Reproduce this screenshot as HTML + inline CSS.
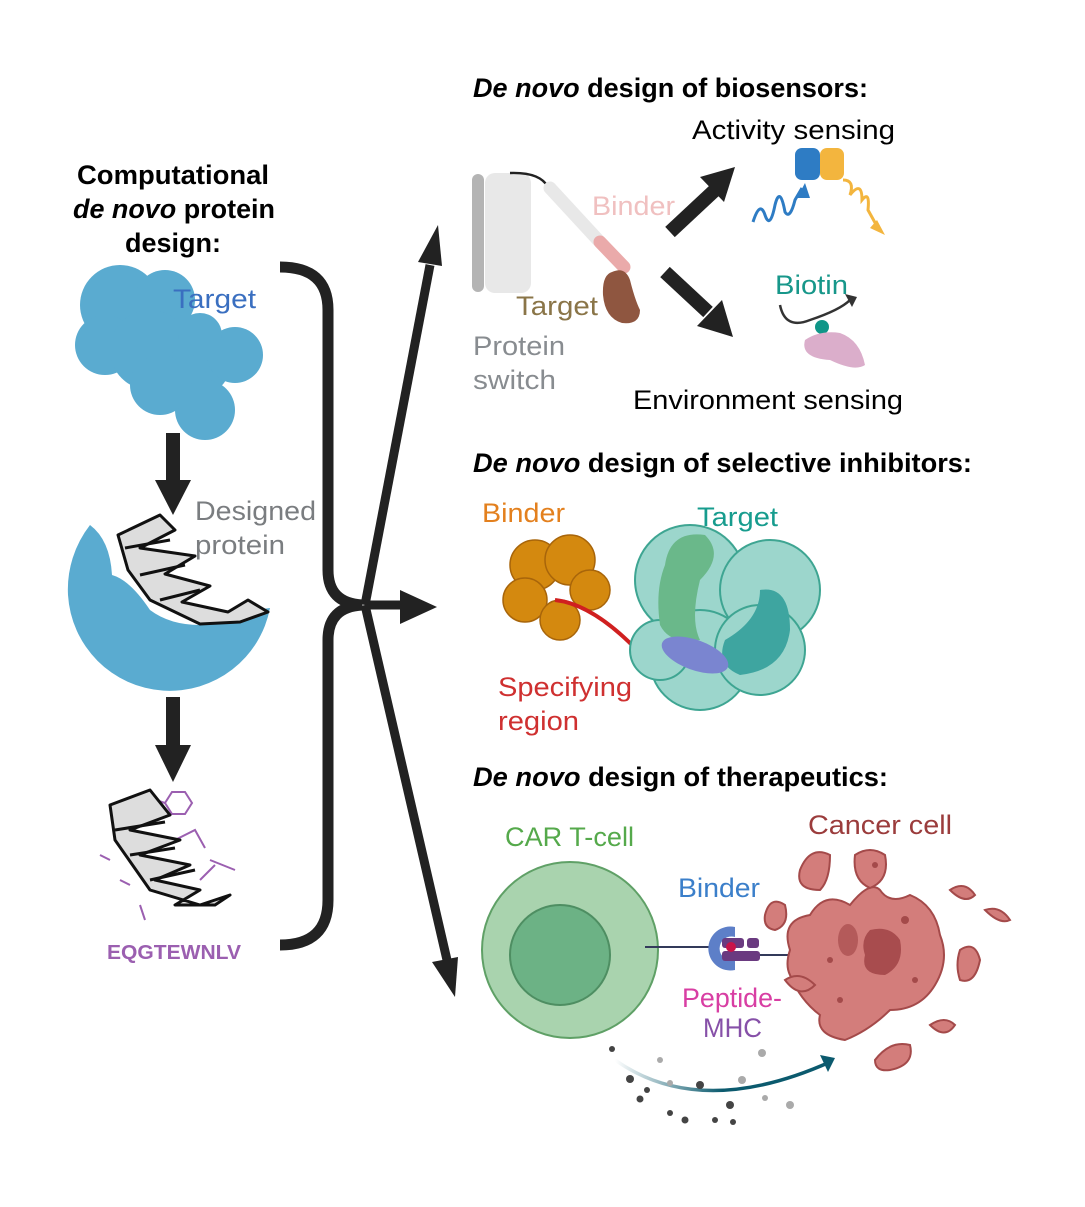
<!DOCTYPE html>
<html><head><meta charset="utf-8"><style>
html,body{margin:0;padding:0;background:#fff;}
svg{display:block;font-family:"Liberation Sans",sans-serif;}
</style></head><body>
<svg width="1085" height="1207" viewBox="0 0 1085 1207" xmlns="http://www.w3.org/2000/svg">
<defs>
<linearGradient id="ga" x1="0" x2="1"><stop offset="0" stop-color="#0b5a6e" stop-opacity="0"/><stop offset="0.5" stop-color="#0b5a6e"/><stop offset="1" stop-color="#0b5a6e"/></linearGradient>
</defs>
<!-- Left title -->
<g font-weight="bold" font-size="27" fill="#000" lengthAdjust="spacingAndGlyphs">
<text x="77" y="184" textLength="192" lengthAdjust="spacingAndGlyphs">Computational</text>
<text x="73" y="218" textLength="202" lengthAdjust="spacingAndGlyphs"><tspan font-style="italic">de novo</tspan> protein</text>
<text x="125" y="252" textLength="96" lengthAdjust="spacingAndGlyphs">design:</text>
</g>
<!-- Target blob -->
<g fill="#5aabd0">
<circle cx="120" cy="305" r="40"/><circle cx="165" cy="300" r="30"/><circle cx="105" cy="345" r="30"/>
<circle cx="150" cy="350" r="40"/><circle cx="200" cy="365" r="30"/><circle cx="235" cy="355" r="28"/>
<circle cx="205" cy="410" r="30"/><circle cx="160" cy="385" r="30"/><circle cx="200" cy="335" r="22"/>
</g>
<text x="173" y="308" font-size="27" fill="#3a6fc0" textLength="83" lengthAdjust="spacingAndGlyphs">Target</text>
<!-- arrows -->
<rect x="166" y="433" width="14" height="50" fill="#222"/><path d="M155,480 L191,480 L173,515 z" fill="#222"/>
<rect x="166" y="697" width="14" height="50" fill="#222"/><path d="M155,745 L191,745 L173,782 z" fill="#222"/>
<!-- bowl -->
<path d="M90,525 Q110,540 112,575 Q130,580 150,610 Q170,625 200,625 L240,612 L270,608 A102,102 0 0 1 68,595 A105,105 0 0 1 90,525 z" fill="#5aabd0"/>
<g fill="#fff" stroke="#111" stroke-width="3" stroke-linejoin="round">
<path d="M118,535 L160,515 L175,530 L140,548 L195,556 L165,574 L210,586 L182,602 L228,612 L248,600 L268,612 L240,622 L200,624 L150,600 L128,570 z" fill="#ddd"/>
<path d="M125,548 L170,540 M140,575 L185,565 M160,600 L200,590" fill="none"/>
</g>
<text x="195" y="520" font-size="27" fill="#7a7d80" textLength="121" lengthAdjust="spacingAndGlyphs">Designed</text>
<text x="195" y="554" font-size="27" fill="#7a7d80" textLength="90" lengthAdjust="spacingAndGlyphs">protein</text>
<!-- helix 2 -->
<g fill="none" stroke="#9b5fb0" stroke-width="2">
<polygon points="172,792 185,792 192,803 185,814 172,814 165,803"/>
<path d="M140,795 L165,803 M175,840 L195,830 L205,848 M200,880 L215,865 M110,860 L100,855 M130,885 L120,880 M145,920 L140,905 M210,860 L235,870"/>
</g>
<g stroke="#111" stroke-width="3" stroke-linejoin="round">
<path d="M110,805 L150,790 L170,815 L130,830 L180,840 L140,855 L190,865 L155,880 L200,890 L175,905 L215,905 L230,895 L200,905 L150,890 L115,840 z" fill="#ddd"/>
<path d="M115,830 L165,822 M130,855 L175,848 M150,880 L195,870" fill="none"/>
</g>
<text x="107" y="959" font-size="20" font-weight="bold" fill="#9b5fb0" textLength="134" lengthAdjust="spacingAndGlyphs">EQGTEWNLV</text>
<!-- bracket -->
<path d="M280,267 Q328,267 328,310 L328,570 Q328,603 362,605 Q328,607 328,640 L328,900 Q328,945 280,945" fill="none" stroke="#222" stroke-width="11"/>
<!-- branching arrows -->
<path d="M365,605 L430,265" stroke="#222" stroke-width="9"/><path d="M418,262 L442,266 L438,225 z" fill="#222"/>
<path d="M365,605 L405,605" stroke="#222" stroke-width="9"/><path d="M400,590 L437,607 L400,624 z" fill="#222"/>
<path d="M365,605 L447,960" stroke="#222" stroke-width="9"/><path d="M432,962 L458,957 L455,997 z" fill="#222"/>
<!-- headings -->
<g font-size="27" font-weight="bold" fill="#000">
<text x="473" y="97" textLength="395" lengthAdjust="spacingAndGlyphs"><tspan font-style="italic">De novo</tspan> design of biosensors:</text>
<text x="473" y="472" textLength="499" lengthAdjust="spacingAndGlyphs"><tspan font-style="italic">De novo</tspan> design of selective inhibitors:</text>
<text x="473" y="786" textLength="415" lengthAdjust="spacingAndGlyphs"><tspan font-style="italic">De novo</tspan> design of therapeutics:</text>
</g>
<!-- biosensor -->
<rect x="472" y="174" width="12" height="118" rx="6" fill="#b4b4b4"/>
<rect x="485" y="173" width="46" height="120" rx="10" fill="#e8e8e8"/>
<path d="M510,173 Q540,172 548,187" fill="none" stroke="#222" stroke-width="2.5"/>
<path d="M550,188 L598,240" stroke="#e8e8e8" stroke-width="13" stroke-linecap="round"/>
<path d="M600,242 L624,267" stroke="#eaaaaa" stroke-width="13" stroke-linecap="round"/>
<path d="M612,272 Q625,266 630,280 Q635,300 640,310 Q640,325 622,323 Q605,318 603,295 Q602,275 612,272z" fill="#8f5640"/>
<text x="592" y="215" font-size="27" fill="#f0c0c0" textLength="83" lengthAdjust="spacingAndGlyphs">Binder</text>
<text x="516" y="315" font-size="27" fill="#8a7548" textLength="82" lengthAdjust="spacingAndGlyphs">Target</text>
<text x="473" y="355" font-size="27" fill="#888c90" textLength="92" lengthAdjust="spacingAndGlyphs">Protein</text>
<text x="473" y="389" font-size="27" fill="#888c90" textLength="83" lengthAdjust="spacingAndGlyphs">switch</text>
<path d="M670,232 L715,190" stroke="#222" stroke-width="14"/><path d="M700,177 L735,167 L724,202 z" fill="#222"/>
<path d="M665,272 L708,312" stroke="#222" stroke-width="14"/><path d="M722,300 L733,337 L697,326 z" fill="#222"/>
<text x="692" y="139" font-size="27" fill="#000" textLength="203" lengthAdjust="spacingAndGlyphs">Activity sensing</text>
<rect x="795" y="148" width="25" height="32" rx="7" fill="#2e7cc4"/>
<rect x="820" y="148" width="24" height="32" rx="7" fill="#f3b53e"/>
<path d="M753,222 Q760,200 765,215 Q770,230 775,205 Q780,185 785,212 Q790,220 795,200 L802,188" fill="none" stroke="#2e7cc4" stroke-width="3"/>
<path d="M797,198 L805,183 L810,198 z" fill="#2e7cc4"/>
<path d="M843,180 Q855,180 850,195 Q862,180 862,200 Q870,190 868,210 L878,228" fill="none" stroke="#f3b53e" stroke-width="3"/>
<path d="M870,228 L885,235 L877,220 z" fill="#f3b53e"/>
<text x="775" y="294" font-size="27" fill="#17978a" textLength="73" lengthAdjust="spacingAndGlyphs">Biotin</text>
<path d="M780,305 Q785,330 810,320 Q840,310 850,300" fill="none" stroke="#333" stroke-width="2.5"/>
<path d="M845,294 L857,297 L852,307 z" fill="#333"/>
<circle cx="822" cy="327" r="7" fill="#0f9688"/>
<path d="M805,340 Q820,330 840,333 Q860,340 865,365 Q855,372 830,360 Q800,358 805,340z" fill="#dbaecb"/>
<text x="633" y="409" font-size="27" fill="#000" textLength="270" lengthAdjust="spacingAndGlyphs">Environment sensing</text>
<!-- inhibitors -->
<text x="482" y="522" font-size="27" fill="#e3801e" textLength="83" lengthAdjust="spacingAndGlyphs">Binder</text>
<text x="697" y="526" font-size="27" fill="#179c8e" textLength="81" lengthAdjust="spacingAndGlyphs">Target</text>
<g fill="#d4890f" stroke="#a8650a" stroke-width="1.5">
<circle cx="535" cy="565" r="25"/><circle cx="570" cy="560" r="25"/><circle cx="590" cy="590" r="20"/>
<circle cx="525" cy="600" r="22"/><circle cx="560" cy="620" r="20"/>
</g>
<path d="M555,600 Q600,605 655,670" fill="none" stroke="#d02020" stroke-width="4"/>
<g fill="#9cd6cc" stroke="#3ea592" stroke-width="2">
<circle cx="690" cy="580" r="55"/><circle cx="770" cy="590" r="50"/><circle cx="700" cy="660" r="50"/>
<circle cx="760" cy="650" r="45"/><circle cx="660" cy="650" r="30"/>
</g>
<path d="M665,565 Q670,530 705,535 Q725,555 700,580 Q690,620 700,640 Q670,645 660,625 Q655,590 665,565z" fill="#6ab88a"/>
<path d="M760,590 Q790,585 790,630 Q785,670 740,675 Q715,665 725,640 Q760,620 760,590z" fill="#3ea5a0"/>
<ellipse cx="695" cy="655" rx="35" ry="15" transform="rotate(20 695 655)" fill="#7a85d0"/>
<text x="498" y="696" font-size="27" fill="#cf3030" textLength="134" lengthAdjust="spacingAndGlyphs">Specifying</text>
<text x="498" y="730" font-size="27" fill="#cf3030" textLength="81" lengthAdjust="spacingAndGlyphs">region</text>
<!-- therapeutics -->
<text x="505" y="846" font-size="27" fill="#55a94b" textLength="129" lengthAdjust="spacingAndGlyphs">CAR T-cell</text>
<text x="808" y="834" font-size="27" fill="#9b3c3c" textLength="144" lengthAdjust="spacingAndGlyphs">Cancer cell</text>
<circle cx="570" cy="950" r="88" fill="#a9d3ae" stroke="#5fa066" stroke-width="2"/>
<circle cx="560" cy="955" r="50" fill="#6cb285" stroke="#4e8e62" stroke-width="2"/>
<line x1="645" y1="947" x2="715" y2="947" stroke="#333a5a" stroke-width="2"/>
<line x1="755" y1="955" x2="790" y2="955" stroke="#333a5a" stroke-width="2"/>
<path d="M735,927 A22,22 0 1 0 735,970 L735,960 A12,12 0 1 1 735,937 z" fill="#5d7fc8"/>
<rect x="722" y="938" width="22" height="10" rx="3" fill="#6a3a80"/><rect x="747" y="938" width="12" height="10" rx="3" fill="#6a3a80"/>
<rect x="722" y="951" width="38" height="10" rx="3" fill="#6a3a80"/>
<circle cx="731" cy="947" r="5" fill="#c8144a"/>
<text x="678" y="897" font-size="27" fill="#3b7fca" textLength="82" lengthAdjust="spacingAndGlyphs">Binder</text>
<text x="682" y="1007" font-size="27" fill="#d83ea3" textLength="100" lengthAdjust="spacingAndGlyphs">Peptide-</text>
<text x="703" y="1037" font-size="27" fill="#8650a8" textLength="59" lengthAdjust="spacingAndGlyphs">MHC</text>
<g fill="#d37d7b" stroke="#a44a4a" stroke-width="2">
<path d="M790,950 Q780,920 810,915 Q825,890 850,905 Q870,880 880,890 Q890,905 910,895 Q935,905 940,935 Q950,960 935,985 Q920,1010 890,1010 Q870,1030 845,1040 Q815,1035 820,1015 Q800,1000 790,975 Q785,965 790,950z"/>
<path d="M800,870 Q810,845 830,855 Q830,880 820,890 Q795,890 800,870z"/>
<path d="M855,855 Q870,845 885,855 Q890,880 870,888 Q852,880 855,855z"/>
<path d="M765,915 Q770,895 785,905 Q790,925 775,930 Q763,928 765,915z"/>
<path d="M950,890 Q965,880 975,895 Q965,905 950,890z"/>
<path d="M960,950 Q975,940 980,960 Q975,985 960,980 Q955,965 960,950z"/>
<path d="M985,910 Q1000,905 1010,920 Q1000,925 985,910z"/>
<path d="M875,1060 Q890,1040 910,1045 Q915,1065 890,1070 Q875,1072 875,1060z"/>
<path d="M930,1025 Q945,1015 955,1025 Q945,1040 930,1025z"/>
<path d="M785,980 Q800,970 815,985 Q800,1000 785,980z"/>
</g>
<path d="M870,930 Q890,925 900,940 Q905,965 885,975 Q860,975 865,955 Q860,940 870,930z" fill="#a84c4e"/>
<ellipse cx="848" cy="940" rx="10" ry="16" fill="#b45a5a"/>
<g fill="#a44a4a"><circle cx="830" cy="960" r="3"/><circle cx="905" cy="920" r="4"/><circle cx="840" cy="1000" r="3"/><circle cx="915" cy="980" r="3"/><circle cx="875" cy="865" r="3"/></g>
<path d="M615,1060 Q700,1120 830,1062" fill="none" stroke="url(#ga)" stroke-width="3.5"/>
<path d="M820,1055 L835,1058 L828,1072 z" fill="#0b5a6e"/>
<g fill="#444"><circle cx="612" cy="1049" r="3"/><circle cx="630" cy="1079" r="4"/><circle cx="647" cy="1090" r="3"/><circle cx="700" cy="1085" r="4"/><circle cx="640" cy="1099" r="3.5"/><circle cx="670" cy="1113" r="3"/><circle cx="730" cy="1105" r="4"/><circle cx="685" cy="1120" r="3.5"/><circle cx="715" cy="1120" r="3"/><circle cx="733" cy="1122" r="3"/></g>
<g fill="#aaa"><circle cx="660" cy="1060" r="3"/><circle cx="670" cy="1083" r="3"/><circle cx="742" cy="1080" r="4"/><circle cx="765" cy="1098" r="3"/><circle cx="790" cy="1105" r="4"/><circle cx="762" cy="1053" r="4"/></g>
</svg>
</body></html>
